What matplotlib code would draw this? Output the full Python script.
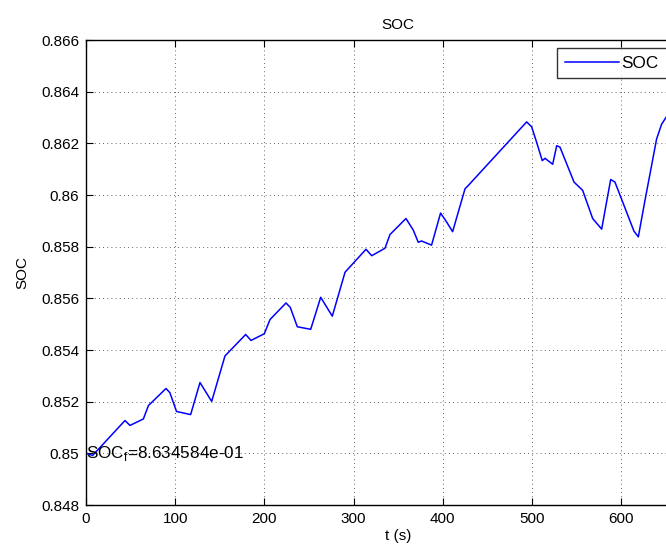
import numpy as np
import matplotlib
matplotlib.use("Agg")
import matplotlib.pyplot as plt

plt.rcParams['font.family'] = ['Liberation Sans', 'DejaVu Sans']

# SOC trace (t in s)
t = [0, 7.5, 43.7, 49.3, 64.3, 70, 89.7, 94, 101.5, 117.3, 127.8, 140.9,
     155.8, 179, 185, 199.9, 206.3, 224.2, 229, 236.9, 251.9, 263.1, 276.1,
     290.4, 313.9, 320.3, 329.6, 335.2, 340.8, 358.7, 366.9, 372.5, 376.2,
     387.4, 397.5, 404.2, 411, 424.9, 428.6, 494, 499.6, 505.2, 511.5, 514.6,
     523.2, 527.7, 531.4, 547.1, 556.8, 568, 578.1, 588.2, 593, 614.3, 619.2,
     626.7, 639.7, 645.3, 650.2, 658]
soc = [0.85000, 0.84992, 0.85127, 0.85108, 0.85133, 0.85185, 0.85251, 0.85235,
       0.85162, 0.85150, 0.85274, 0.85201, 0.85377, 0.85460, 0.85437, 0.85463,
       0.85518, 0.85582, 0.85565, 0.85490, 0.85480, 0.85604, 0.85531, 0.85701,
       0.85790, 0.85765, 0.85783, 0.85794, 0.85847, 0.85909, 0.85864, 0.85817,
       0.85822, 0.85806, 0.85930, 0.85896, 0.85858, 0.86024, 0.86037, 0.86283,
       0.86264, 0.86204, 0.86133, 0.86142, 0.86119, 0.86191, 0.86185, 0.86050,
       0.86018, 0.85909, 0.85868, 0.86060, 0.86050, 0.85860, 0.85838, 0.85980,
       0.86217, 0.86274, 0.86300, 0.8634584]
soc_f = 8.634584e-01

xticks = [0, 100, 200, 300, 400, 500, 600]
yticks = [0.848, 0.85, 0.852, 0.854, 0.856, 0.858, 0.86, 0.862, 0.864, 0.866]
ylabels = ['0.848', '0.85', '0.852', '0.854', '0.856', '0.858', '0.86',
           '0.862', '0.864', '0.866']

fig = plt.figure(figsize=(6.66, 5.53), dpi=100)
# axes run past the right edge, like the cropped original
ax = fig.add_axes([86/666, 48/553, 624.4/666, 465/553])
line, = ax.plot(t, soc, color=(0, 0, 1), lw=1.1, label='SOC')
ax.set_xlim(0, 700)
ax.set_ylim(0.848, 0.866)
ax.set_xticks(xticks)
ax.set_yticks(yticks)
ax.set_yticklabels(ylabels)
ax.tick_params(direction='in', length=5, width=0.8, labelsize=11,
               top=True, right=True, pad=5)
ax.grid(True, linestyle=(0, (1, 4)), color='black', lw=0.6, alpha=0.8)
for s in ax.spines.values():
    s.set_linewidth(1.0)

ax.set_title('SOC', fontsize=11, pad=8)
ax.set_xlabel('t (s)', fontsize=11, labelpad=2)
ax.set_ylabel('SOC', fontsize=11, labelpad=8)

ax.text(0, 0.85, r'SOC$_{\mathregular{f}}$=%e' % soc_f, fontsize=12.3,
        va='center', ha='left')

# legend box runs off the right edge too
leg = ax.legend(loc='upper left',
                bbox_to_anchor=(557/666, 1 - 75/553, 116/666, 27/553),
                bbox_transform=fig.transFigure, mode='expand',
                fontsize=12.3, frameon=True, fancybox=False,
                handlelength=3.2, borderpad=0.45, handletextpad=0.1,
                borderaxespad=0)
leg.get_frame().set_edgecolor('black')
leg.get_frame().set_linewidth(1.0)

fig.savefig('out.png', dpi=100)
